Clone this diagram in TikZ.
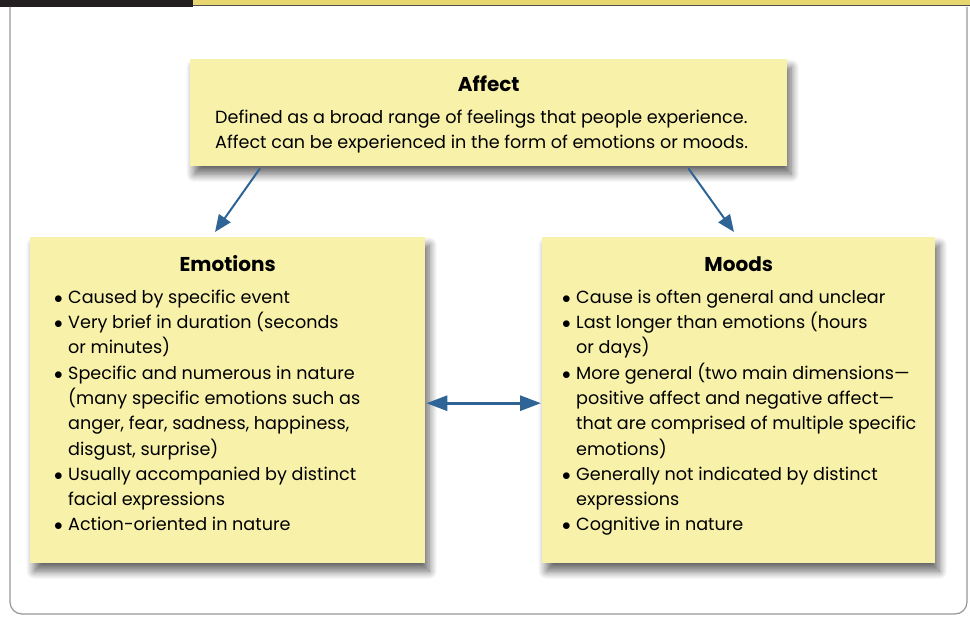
\documentclass[tikz,border=0pt]{standalone}
\usepackage{fontspec}
\setmainfont{Poppins}
\usetikzlibrary{arrows.meta,shadows.blur}
\definecolor{boxyellow}{RGB}{247,241,170}
\definecolor{baryellow}{RGB}{232,214,112}
\definecolor{bardark}{RGB}{35,31,32}
\definecolor{arrowblue}{RGB}{46,100,150}
\definecolor{framegray}{RGB}{150,150,150}
\newcommand{\bitem}[1]{\par\hangindent=14pt\hangafter=1\noindent\makebox[14pt][l]{$\bullet$}#1}
\newcommand{\boxtitle}[2]{\noindent\makebox[#1]{\fontsize{20}{25.3}\selectfont\strut\textbf{#2}}\par\vspace{6pt}}
\newcommand{\boxtext}[2]{\makebox[#1][l]{\parbox[t][292pt][t]{380pt}{\raggedright #2}}}
\tikzset{
  notebox/.style={rectangle,fill=boxyellow,anchor=north west,align=left,
    blur shadow={shadow xshift=4pt,shadow yshift=-8pt,shadow blur radius=8pt,shadow blur steps=12,shadow opacity=60},
    font=\fontsize{17.6}{25.3}\selectfont},
  link/.style={->,draw=arrowblue,line width=2pt}
}
\begin{document}
\begin{tikzpicture}[x=1pt,y=-1pt,>={Triangle[length=17pt,width=14pt]},color=black]
		\useasboundingbox (0,0) rectangle (970,617);
		% top bar and frame
		\fill[bardark] (0,0) rectangle (193,7);
		\fill[bardark!80] (193,0) rectangle (970,6);
		\fill[baryellow] (193,0) rectangle (970,5);
		\draw[framegray,line width=1.2pt,rounded corners=12pt] (10,7)--(10,614)--(967,614)--(967,7);
		% boxes
		\node[notebox,minimum width=597pt,minimum height=107pt,inner xsep=25pt,inner ysep=15pt] (affect) at (190,59)
		  {\parbox[t][77pt][t]{547pt}{\boxtitle{547pt}{Affect}\raggedright
		   Defined as a broad range of feelings that people experience.\newline
		   Affect can be experienced in the form of emotions or moods.}};
		\node[notebox,minimum width=395pt,minimum height=326pt,inner xsep=24pt,inner ysep=17pt] (emotions) at (30,237)
		  {\boxtext{347pt}{\boxtitle{347pt}{Emotions}
		   \bitem{Caused by specific event}
		   \bitem{Very brief in duration (seconds\newline or minutes)}
		   \bitem{Specific and numerous in nature\newline (many specific emotions such as\newline anger, fear, sadness, happiness,\newline disgust, surprise)}
		   \bitem{Usually accompanied by distinct\newline facial expressions}
		   \bitem{Action-oriented in nature}}};
		\node[notebox,minimum width=393pt,minimum height=326pt,inner xsep=20pt,inner ysep=17pt] (moods) at (542,237)
		  {\boxtext{353pt}{\boxtitle{353pt}{Moods}
		   \bitem{Cause is often general and unclear}
		   \bitem{Last longer than emotions (hours\newline or days)}
		   \bitem{More general (two main dimensions---\newline positive affect and negative affect---\newline that are comprised of multiple specific\newline emotions)}
		   \bitem{Generally not indicated by distinct\newline expressions}
		   \bitem{Cognitive in nature}}};
		% connectors
		\draw[link] ([xshift=70pt,yshift=-2pt]affect.south west) -- ([xshift=185pt,yshift=5pt]emotions.north west);
		\draw[link] ([xshift=-99pt,yshift=-2pt]affect.south east) -- ([xshift=192pt,yshift=5pt]moods.north west);
		\draw[link,<->,line width=3pt,>={Triangle[length=21pt,width=15pt]}] ([xshift=1pt,yshift=-3pt]emotions.east) -- ([xshift=-1pt,yshift=-3pt]moods.west);
		\end{tikzpicture}
\end{document}
